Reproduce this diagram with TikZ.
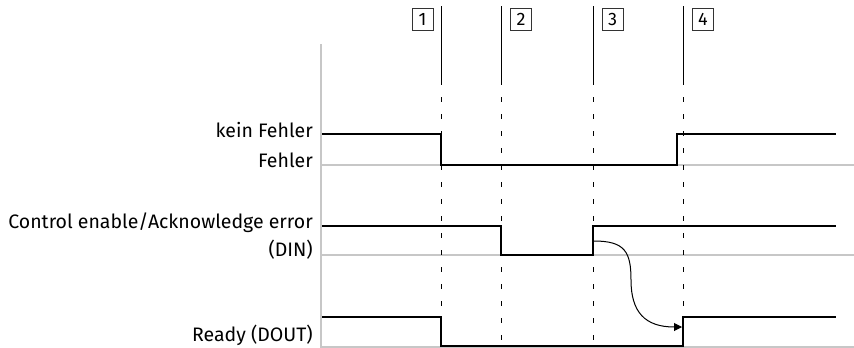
\documentclass[tikz,border=0pt]{standalone}
\usepackage{fontspec}
\setmainfont{Fira Sans}
\usetikzlibrary{arrows.meta}
\begin{document}
\begin{tikzpicture}[x=1pt,y=-1pt,
  sig/.style={line width=2pt,black,line join=miter},
  gridl/.style={line width=1.6pt,black!22},
  mark solid/.style={line width=1pt,black},
  mark dash/.style={line width=1pt,black,dash pattern=on 5pt off 12pt},
  lbl/.style={anchor=base east,inner sep=0pt,font=\fontsize{19.5}{22}\selectfont},
  numbox/.style={draw=black!80,line width=0.8pt,minimum width=21pt,minimum height=22pt,inner sep=0pt,font=\fontsize{18}{18}\selectfont}]
\useasboundingbox (0,0) rectangle (854,348);
% axis and baselines
\draw[gridl] (321,44) -- (321,348);
\draw[gridl] (321,165) -- (854,165);
\draw[gridl] (321,255) -- (854,255);
\draw[gridl] (321,347) -- (854,347);
% time markers
\foreach \n/\x in {1/441,2/501,3/593,4/683}{
  \coordinate (t\n top) at (\x,6);
  \coordinate (t\n mid) at (\x,80);
  \coordinate (t\n bot) at (\x,348);
  \draw[mark solid] (t\n top) -- (t\n mid);
  \draw[mark dash] (t\n mid) -- (t\n bot);
}
\node[numbox] (b1) at (422.5,19) {1};
\node[numbox] (b2) at (521,19) {2};
\node[numbox] (b3) at (612.5,19) {3};
\node[numbox] (b4) at (703,19) {4};
% labels
\node[lbl] (l1) at (313,137) {kein Fehler};
\node[lbl] (l2) at (313,167) {Fehler};
\node[lbl] (l3) at (313,228) {Control enable/Acknowledge error};
\node[lbl] (l4) at (313,256) {(DIN)};
\node[lbl] (l5) at (313,341) {Ready (DOUT)};
% signals
\draw[sig] (322,134) -- (441,134) -- (441,165) -- (677,165) -- (677,134) -- (836,134);
\draw[sig] (322,226) -- (501,226) -- (501,255) -- (593,255) -- (593,226) -- (836,226);
\draw[sig] (322,317) -- (441,317) -- (441,346) -- (683,346) -- (683,317) -- (836,317);
% causal arrow
\coordinate (cs) at (594,241);
\coordinate (ce) at (682,327);
\draw[line width=1pt,-{Triangle[length=8pt,width=8pt]}] (cs) .. controls (625,241) and (631,252) .. (631,280) .. controls (631,312) and (645,327) .. (ce);
\end{tikzpicture}
\end{document}
